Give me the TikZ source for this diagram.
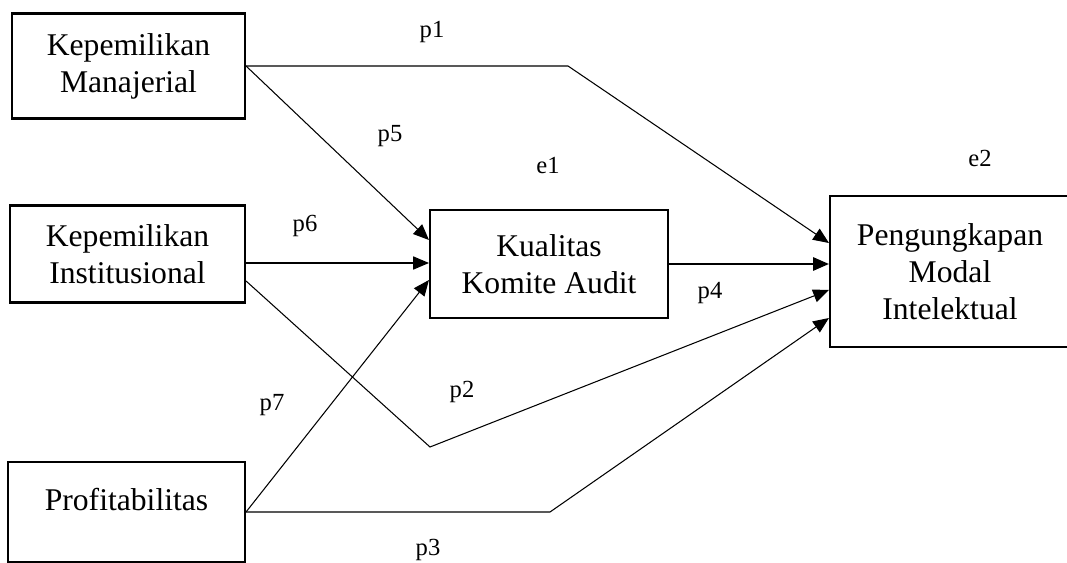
\documentclass[tikz,border=0pt]{standalone}
\usepackage{fontspec}
\setmainfont{Liberation Serif}
\usetikzlibrary{arrows.meta}

\begin{document}
\begin{tikzpicture}[x=0.02cm,y=-0.02cm,
    box/.style={draw, line width=1.2pt, align=center, font=\fontsize{18}{21}\selectfont},
    lbl/.style={font=\fontsize{14}{16}\selectfont},
    >={Triangle[length=9pt,width=7.5pt]},
    path/.style={->, line width=0.6pt}]
  \useasboundingbox (0,0) rectangle (1067,563);
  % variables
  \node [box, minimum width=4.66cm, minimum height=2.1cm] (km) at (128.5,66) {Kepemilikan\\Manajerial};
  \node [box, minimum width=4.7cm, minimum height=1.94cm] (ki) at (127.5,254) {Kepemilikan\\Institusional};
  \node [box, minimum width=4.74cm, minimum height=2cm, text depth=14pt] (pr) at (126.5,512) {Profitabilitas};
  \node [box, minimum width=4.76cm, minimum height=2.16cm] (kka) at (549,264) {Kualitas\\Komite Audit};
  \node [box, minimum width=4.8cm, minimum height=3.02cm] (pmi) at (950,271.5) {Pengungkapan\\Modal\\Intelektual};
  % bends
  \coordinate (b1) at (568,66);
  \coordinate (b2) at (430,447);
  \coordinate (b3) at (550,512);
  % paths
  \draw [path] (km.east) -- (b1) -- ([yshift=0.57cm]pmi.west);
  \draw [path] (km.east) -- ([yshift=0.48cm]kka.west);
  \draw [path] ([yshift=-0.18cm]ki.east) -- ([yshift=-0.18cm]ki.east -| kka.west);
  \draw [path] ([yshift=-0.54cm]ki.east) -- (b2) -- ([yshift=-0.37cm]pmi.west);
  \draw [path] (pr.east) -- ([yshift=-0.32cm]kka.west);
  \draw [path] (pr.east) -- (b3) -- ([yshift=-0.93cm]pmi.west);
  \draw [path, line width=1.2pt] (kka.east) -- (kka.east -| pmi.west);
  % labels
  \node [lbl] (lp1) at (432,32) {p1};
  \node [lbl] (lp5) at (390,136) {p5};
  \node [lbl] (le1) at (548,166) {e1};
  \node [lbl] (le2) at (980,158) {e2};
  \node [lbl] (lp6) at (305,226) {p6};
  \node [lbl] (lp4) at (710,293) {p4};
  \node [lbl] (lp2) at (462,392) {p2};
  \node [lbl] (lp7) at (272,405) {p7};
  \node [lbl] (lp3) at (428,550) {p3};
\end{tikzpicture}
\end{document}
